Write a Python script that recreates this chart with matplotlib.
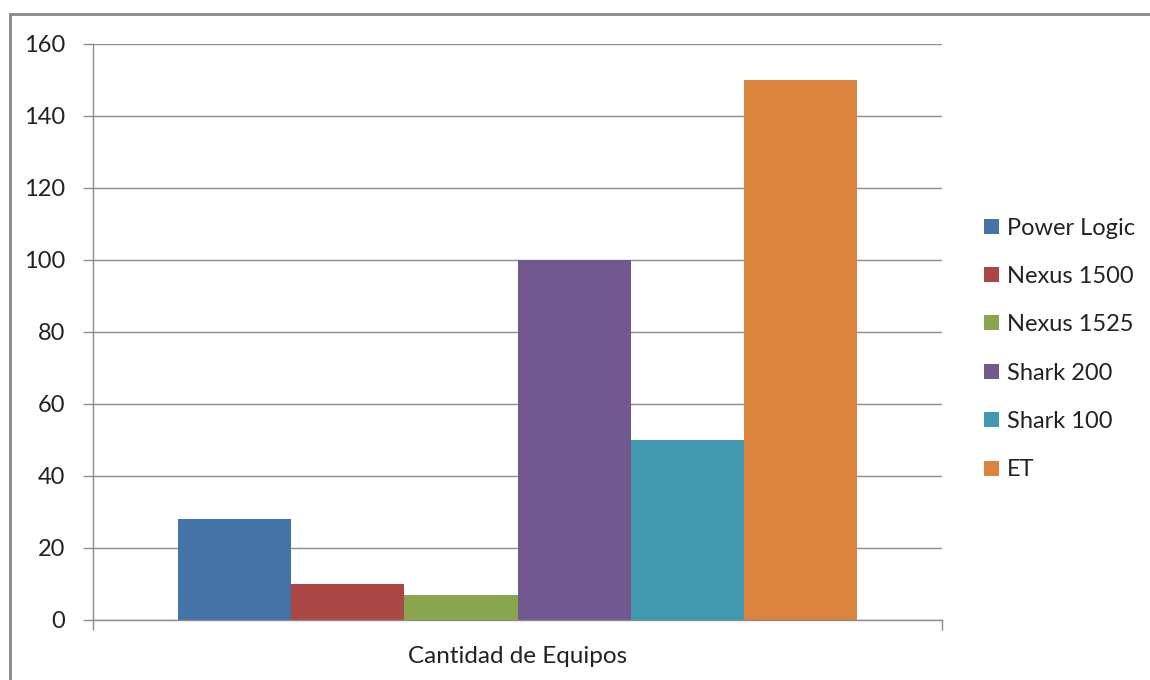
import matplotlib.pyplot as plt
from matplotlib.patches import Rectangle

# Data
series_names = ["Power Logic", "Nexus 1500", "Nexus 1525", "Shark 200", "Shark 100", "ET"]
values = [28, 10, 7, 100, 50, 150]
colors = ["#4572A7", "#AA4643", "#89A54E", "#71588F", "#4198AF", "#DB843D"]
category = "Cantidad de Equipos"
yticks = [0, 20, 40, 60, 80, 100, 120, 140, 160]

plt.rcParams["font.family"] = ["Lato", "DejaVu Sans"]
grid_col = "#8c8c8c"

fig = plt.figure(figsize=(11.5, 6.8), dpi=100)
ax = fig.add_axes([93 / 1150, 1 - 620 / 680, 849 / 1150, 576 / 680])

# outer chart frame
fig.patches.append(Rectangle((10 / 1150, -0.1), 1.2, 1 - 14 / 680 + 0.1,
                             transform=fig.transFigure, fill=False,
                             edgecolor="#888888", linewidth=2))

n = len(values)
bw = 0.8 / n
for i, (name, v, c) in enumerate(zip(series_names, values, colors)):
    ax.bar(-0.4 + bw * (i + 0.5), v, width=bw, color=c, label=name, zorder=3)

ax.set_xlim(-0.5, 0.5)
ax.set_ylim(0, 160)
ax.set_yticks(yticks)
ax.set_xticks([-0.5, 0.5])
ax.set_xticklabels(["", ""])
ax.tick_params(axis="y", direction="out", length=7, width=1, color=grid_col,
               labelsize=17, pad=13, labelcolor="#222222")
ax.tick_params(axis="x", direction="out", length=7, width=1, color=grid_col)
ax.grid(axis="y", color=grid_col, linewidth=1, zorder=0)
for s in ["top", "right"]:
    ax.spines[s].set_visible(False)
for s in ["left", "bottom"]:
    ax.spines[s].set_color(grid_col)
    ax.spines[s].set_linewidth(1)
    ax.spines[s].set_zorder(4)

ax.text(0.5, -0.063, category, transform=ax.transAxes, ha="center", va="center",
        fontsize=17.5, color="#222222")

leg = ax.legend(loc="center left", bbox_to_anchor=(975 / 1150, 1 - 349 / 680),
                bbox_transform=fig.transFigure, frameon=False, fontsize=17,
                handlelength=0.6, handleheight=0.6, handletextpad=0.35,
                labelspacing=1.16, borderaxespad=0)
for t in leg.get_texts():
    t.set_color("#222222")

fig.savefig("out.png", dpi=100)
